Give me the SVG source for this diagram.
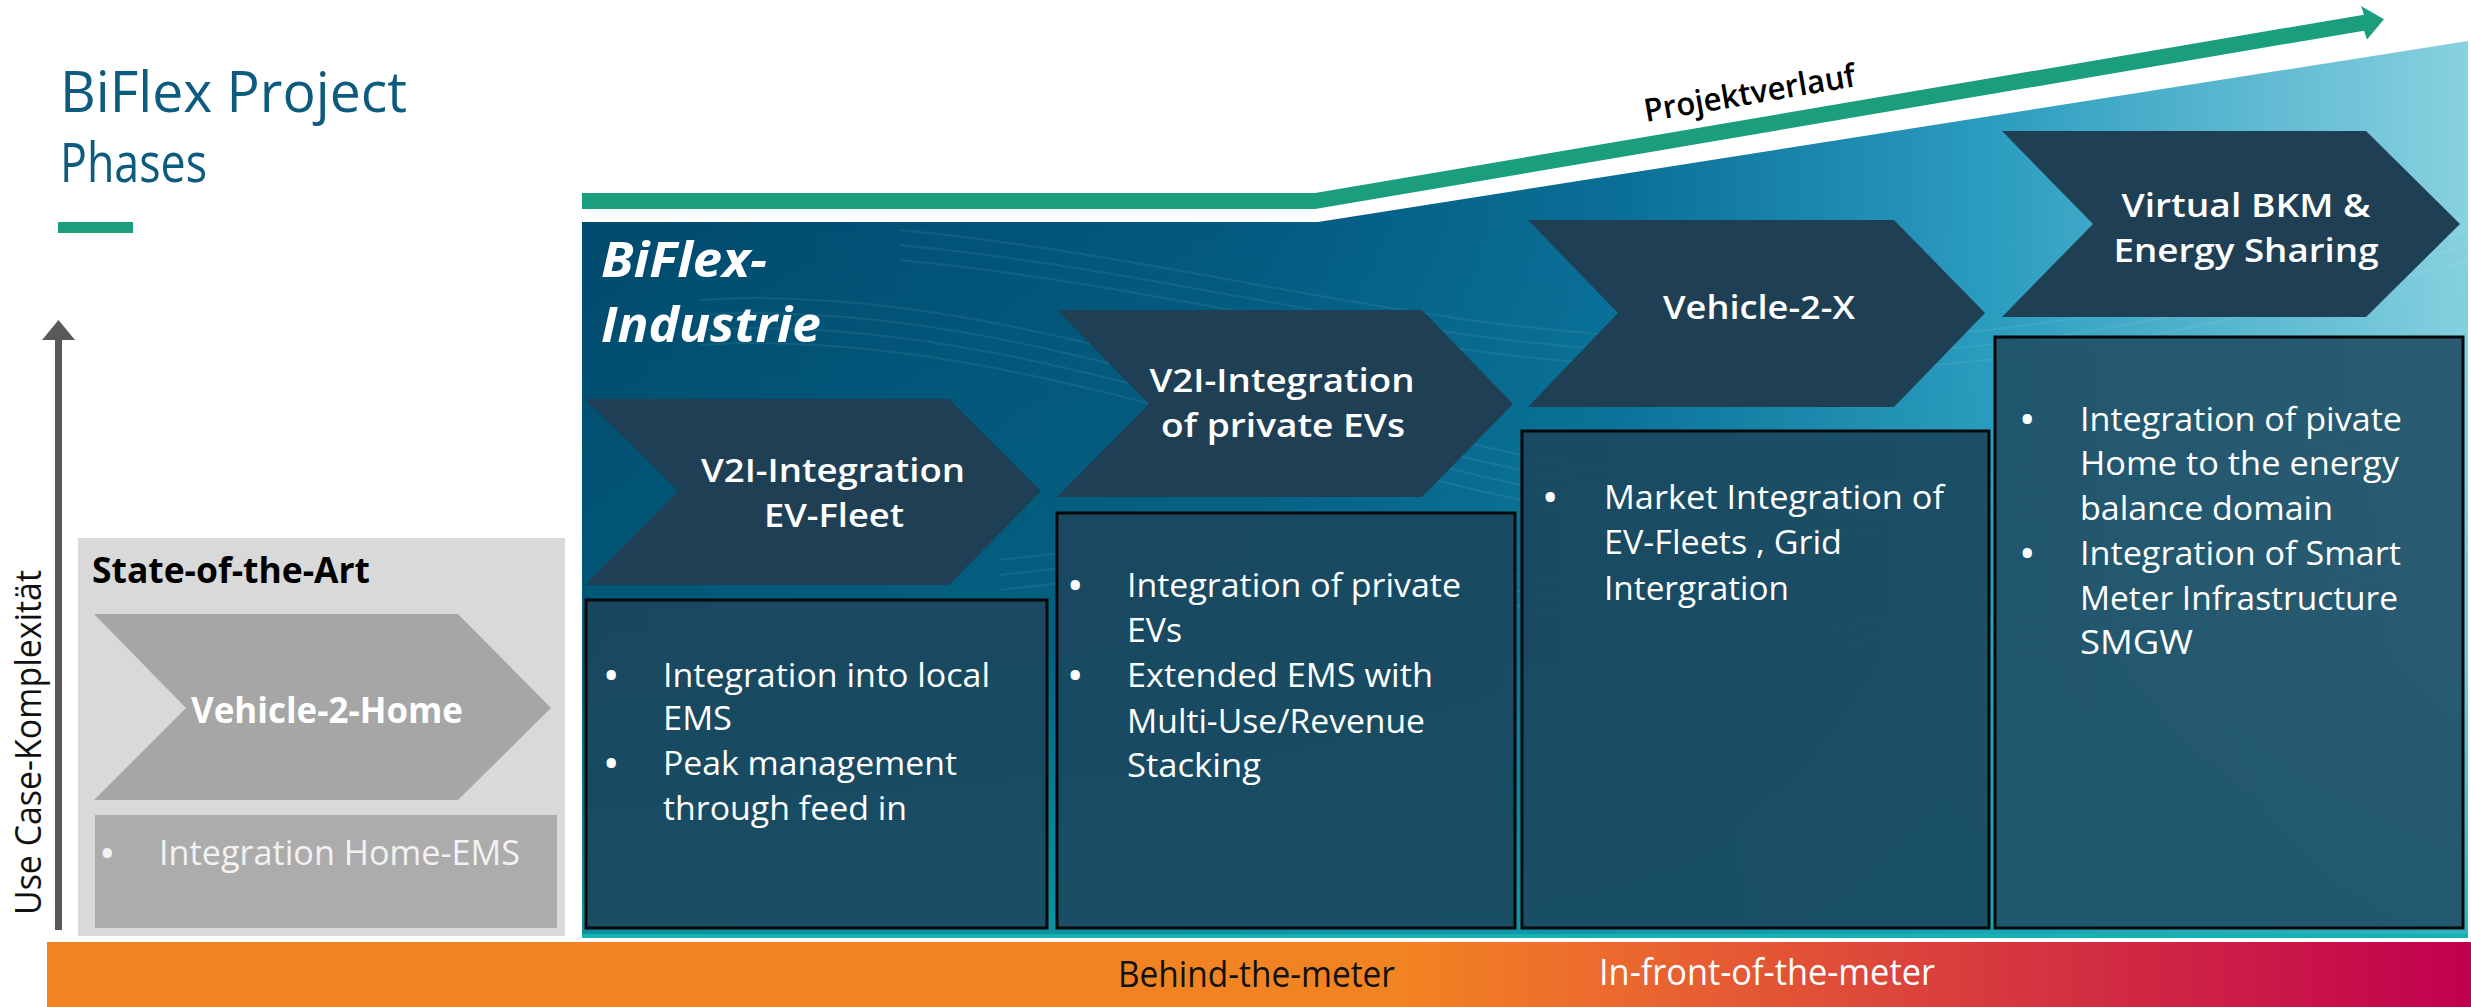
<svg xmlns="http://www.w3.org/2000/svg" width="2471" height="1007" viewBox="0 0 2471 1007">
<style>
.title{font-family:"Open Sans","Noto Sans",sans-serif;fill:#0d5b7e}
.chev{fill:#1e3f54}
.chevt{font-family:"Open Sans","Noto Sans",sans-serif;font-weight:600;font-size:33px;fill:#fff;text-anchor:middle}
.box{fill:#1b475d;fill-opacity:0.9;stroke:#080808;stroke-width:3}
.bt{font-family:"Open Sans","Noto Sans",sans-serif;font-size:33px;fill:#fff}
.dot{font-family:"Open Sans","Noto Sans",sans-serif;font-size:33px;font-weight:700;fill:#fff}
.lab{font-family:"Open Sans","Noto Sans",sans-serif;font-size:36px}
</style>
<defs>
<linearGradient id="panelH" x1="582" y1="0" x2="2468" y2="0" gradientUnits="userSpaceOnUse">
<stop offset="0" stop-color="#004a6d"/>
<stop offset="0.35" stop-color="#03597f"/>
<stop offset="0.55" stop-color="#0a6f97"/>
<stop offset="0.75" stop-color="#2c9dc0"/>
<stop offset="1" stop-color="#88d1e0"/>
</linearGradient>
<linearGradient id="panelV" x1="0" y1="222" x2="0" y2="938" gradientUnits="userSpaceOnUse">
<stop offset="0" stop-color="#12a8b0" stop-opacity="0"/>
<stop offset="0.6" stop-color="#12a8b0" stop-opacity="0.15"/>
<stop offset="1" stop-color="#12a8b0" stop-opacity="0.75"/>
</linearGradient>
<linearGradient id="orange" x1="47" y1="0" x2="2471" y2="0" gradientUnits="userSpaceOnUse">
<stop offset="0" stop-color="#f28322"/>
<stop offset="0.56" stop-color="#f28322"/>
<stop offset="0.64" stop-color="#ec6b2e"/>
<stop offset="0.81" stop-color="#d6373f"/>
<stop offset="1" stop-color="#c1004f"/>
</linearGradient>
<clipPath id="panelClip"><polygon points="582,222 1318,222 2468,41 2468,938 582,938"/></clipPath>
</defs>

<!-- Title -->
<g id="title">
<text class="title" x="60" y="112" font-size="56" textLength="347" lengthAdjust="spacingAndGlyphs">BiFlex Project</text>
<text class="title" x="60" y="182" font-size="54" textLength="147" lengthAdjust="spacingAndGlyphs">Phases</text>
<rect x="58" y="222" width="75" height="11" fill="#1a9e7e"/>
</g>

<!-- Y axis -->
<g id="yaxis">
<line x1="58.5" y1="930" x2="58.5" y2="336" stroke="#595959" stroke-width="7"/>
<polygon points="42,340 58.5,320 75,340" fill="#595959"/>
<text class="lab" transform="translate(41,915) rotate(-90)" font-size="40" fill="#111" textLength="345" lengthAdjust="spacingAndGlyphs">Use Case-Komplexität</text>
</g>

<!-- BiFlex panel -->
<g id="panel">
<polygon points="582,222 1318,222 2468,41 2468,938 582,938" fill="url(#panelH)"/>
<polygon points="582,222 1318,222 2468,41 2468,938 582,938" fill="url(#panelV)"/>
<g clip-path="url(#panelClip)" fill="none" stroke="#ffffff" stroke-opacity="0.07" stroke-width="2">
<path d="M700,300 C1000,280 1300,420 1600,470 S2200,440 2470,380"/>
<path d="M700,315 C1000,295 1300,435 1600,485 S2200,455 2470,395"/>
<path d="M700,330 C1000,310 1300,450 1600,500 S2200,470 2470,410"/>
<path d="M700,345 C1000,325 1300,465 1600,515 S2200,485 2470,425"/>
<path d="M900,230 C1200,260 1400,330 1700,340 S2200,300 2470,230"/>
<path d="M900,245 C1200,275 1400,345 1700,355 S2200,315 2470,245"/>
<path d="M900,260 C1200,290 1400,360 1700,370 S2200,330 2470,260"/>
<path d="M1000,560 C1300,520 1600,600 1900,620 S2300,560 2470,520"/>
<path d="M1000,575 C1300,535 1600,615 1900,635 S2300,575 2470,535"/>
<path d="M1000,590 C1300,550 1600,630 1900,650 S2300,590 2470,550"/>
</g>
<line x1="582" y1="936" x2="2468" y2="936" stroke="#17b0b3" stroke-width="4"/>
<text x="601" y="277" font-family="Open Sans,Noto Sans,sans-serif" font-weight="700" font-style="italic" font-size="48" fill="#fff" textLength="166" lengthAdjust="spacingAndGlyphs">BiFlex-</text>
<text x="601" y="342" font-family="Open Sans,Noto Sans,sans-serif" font-weight="700" font-style="italic" font-size="48" fill="#fff" textLength="220" lengthAdjust="spacingAndGlyphs">Industrie</text>
</g>

<!-- Project progress arrow -->
<g id="connectors">
<polygon points="582,193 1315,193 2364,14.7 2361,5.9 2384,19.3 2367,39.5 2364,30.7 1315,209 582,209" fill="#1a9e7e"/>
<text transform="translate(1646,122) rotate(-9.65)" font-family="Open Sans,Noto Sans,sans-serif" font-weight="600" font-size="32" fill="#000" textLength="214" lengthAdjust="spacingAndGlyphs">Projektverlauf</text>
</g>

<!-- State of the art -->
<g id="state-of-the-art">
<rect x="78" y="538" width="487" height="398" fill="#d9d9d9"/>
<text x="92" y="583" font-family="Open Sans,Noto Sans,sans-serif" font-weight="700" font-size="35" fill="#000" textLength="278" lengthAdjust="spacingAndGlyphs">State-of-the-Art</text>
</g>
<g id="vehicle-2-home">
<polygon points="94,614 458,614 551,708 458,800 94,800 186,708" fill="#a6a6a6"/>
<text x="191" y="723" font-family="Open Sans,Noto Sans,sans-serif" font-weight="700" font-size="35" fill="#fff" textLength="272" lengthAdjust="spacingAndGlyphs">Vehicle-2-Home</text>
</g>
<g id="home-ems">
<rect x="95" y="815" width="462" height="113" fill="#acacac"/>
<text class="dot" x="101" y="865" style="fill:#f2f2f2">•</text>
<text class="bt" x="159" y="865" font-size="35" style="fill:#f2f2f2;font-size:35px" textLength="361" lengthAdjust="spacingAndGlyphs">Integration Home-EMS</text>
</g>

<!-- Phase 1 -->
<g id="phase1">
<polygon class="chev" points="585,399 949,399 1041,491 949,585 585,585 678,491"/>
<text class="chevt" x="833" y="482" textLength="264" lengthAdjust="spacingAndGlyphs">V2I-Integration</text>
<text class="chevt" x="834" y="527" textLength="140" lengthAdjust="spacingAndGlyphs">EV-Fleet</text>
</g>
<g id="box1">
<rect class="box" x="586" y="600" width="461" height="328"/>
<text class="dot" x="605" y="687">•</text>
<text class="bt" x="663" y="687" textLength="327" lengthAdjust="spacingAndGlyphs">Integration into local</text>
<text class="bt" x="663" y="730" textLength="69" lengthAdjust="spacingAndGlyphs">EMS</text>
<text class="dot" x="605" y="775">•</text>
<text class="bt" x="663" y="775" textLength="294" lengthAdjust="spacingAndGlyphs">Peak management</text>
<text class="bt" x="663" y="820" textLength="244" lengthAdjust="spacingAndGlyphs">through feed in</text>
</g>

<!-- Phase 2 -->
<g id="phase2">
<polygon class="chev" points="1057,310 1422,310 1513,404 1422,497 1057,497 1149,404"/>
<text class="chevt" x="1282" y="392" textLength="265" lengthAdjust="spacingAndGlyphs">V2I-Integration</text>
<text class="chevt" x="1283" y="437" textLength="244" lengthAdjust="spacingAndGlyphs">of private EVs</text>
</g>
<g id="box2">
<rect class="box" x="1057" y="513" width="458" height="415"/>
<text class="dot" x="1069" y="597">•</text>
<text class="bt" x="1127" y="597" textLength="334" lengthAdjust="spacingAndGlyphs">Integration of private</text>
<text class="bt" x="1127" y="642" textLength="55" lengthAdjust="spacingAndGlyphs">EVs</text>
<text class="dot" x="1069" y="687">•</text>
<text class="bt" x="1127" y="687" textLength="306" lengthAdjust="spacingAndGlyphs">Extended EMS with</text>
<text class="bt" x="1127" y="733" textLength="298" lengthAdjust="spacingAndGlyphs">Multi-Use/Revenue</text>
<text class="bt" x="1127" y="777" textLength="134" lengthAdjust="spacingAndGlyphs">Stacking</text>
</g>

<!-- Phase 3 -->
<g id="phase3">
<polygon class="chev" points="1528,220 1894,220 1985,313 1894,407 1528,407 1618,313"/>
<text class="chevt" x="1759" y="319" textLength="192" lengthAdjust="spacingAndGlyphs">Vehicle-2-X</text>
</g>
<g id="box3">
<rect class="box" x="1522" y="431" width="467" height="497"/>
<text class="dot" x="1544" y="509">•</text>
<text class="bt" x="1604" y="509" textLength="340" lengthAdjust="spacingAndGlyphs">Market Integration of</text>
<text class="bt" x="1604" y="554" textLength="238" lengthAdjust="spacingAndGlyphs">EV-Fleets , Grid</text>
<text class="bt" x="1604" y="600" textLength="185" lengthAdjust="spacingAndGlyphs">Intergration</text>
</g>

<!-- Phase 4 -->
<g id="phase4">
<polygon class="chev" points="2002,131 2366,131 2460,224 2366,317 2002,317 2093,224"/>
<text class="chevt" x="2246" y="217" textLength="249" lengthAdjust="spacingAndGlyphs">Virtual BKM &amp;</text>
<text class="chevt" x="2246" y="262" textLength="265" lengthAdjust="spacingAndGlyphs">Energy Sharing</text>
</g>
<g id="box4">
<rect class="box" x="1995" y="337" width="468" height="591" style="fill:#204f65"/>
<text class="dot" x="2021" y="431">•</text>
<text class="bt" x="2080" y="431" textLength="322" lengthAdjust="spacingAndGlyphs">Integration of pivate</text>
<text class="bt" x="2080" y="475" textLength="319" lengthAdjust="spacingAndGlyphs">Home to the energy</text>
<text class="bt" x="2080" y="520" textLength="253" lengthAdjust="spacingAndGlyphs">balance domain</text>
<text class="dot" x="2021" y="565">•</text>
<text class="bt" x="2080" y="565" textLength="321" lengthAdjust="spacingAndGlyphs">Integration of Smart</text>
<text class="bt" x="2080" y="610" textLength="318" lengthAdjust="spacingAndGlyphs">Meter Infrastructure</text>
<text class="bt" x="2080" y="654" textLength="113" lengthAdjust="spacingAndGlyphs">SMGW</text>
</g>

<!-- Meter bar -->
<g id="meter-bar">
<rect x="47" y="942" width="2424" height="65" fill="url(#orange)"/>
<text class="lab" x="1118" y="987" fill="#111" textLength="277" lengthAdjust="spacingAndGlyphs">Behind-the-meter</text>
<text class="lab" x="1599" y="985" fill="#fff" textLength="336" lengthAdjust="spacingAndGlyphs">In-front-of-the-meter</text>
</g>
</svg>
